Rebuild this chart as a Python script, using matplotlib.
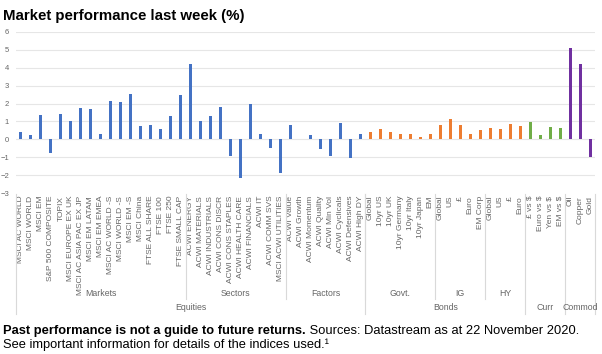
import matplotlib
matplotlib.use('Agg')
import matplotlib.pyplot as plt
from matplotlib import transforms

plt.rcParams['font.family'] = ['Liberation Sans', 'DejaVu Sans']

# categories per group
markets = ['MSCI AC WORLD', 'MSCI WORLD', 'MSCI EM', 'S&P 500 COMPOSITE', 'TOPIX',
           'MSCI EUROPE EX UK', 'MSCI AC ASIA PAC EX JP', 'MSCI EM LATAM', 'MSCI EM EMEA',
           'MSCI AC WORLD -S', 'MSCI WORLD -S', 'MSCI EM -S', 'MSCI China',
           'FTSE ALL SHARE', 'FTSE 100', 'FTSE 250', 'FTSE SMALL CAP']
sectors = ['ACWI ENERGY', 'ACWI MATERIALS', 'ACWI INDUSTRIALS', 'ACWI CONS DISCR',
           'ACWI CONS STAPLES', 'ACWI HEALTH CARE', 'ACWI FINANCIALS', 'ACWI IT',
           'ACWI COMM SVS', 'MSCI ACWI UTILITIES']
factors = ['ACWI Value', 'ACWI Growth', 'ACWI Momentum', 'ACWI Quality', 'ACWI Min Vol',
           'ACWI Cyclicals', 'ACWI Defensives', 'ACWI High DY']
govt = ['Global', '10yr US', '10yr UK', '10yr Germany', '10yr Italy', '10yr Japan', 'EM']
ig = ['Global', 'US', '£', 'Euro', 'EM Corp']
hy = ['Global', 'US', '£', 'Euro']
curr = ['£ vs $', 'Euro vs $', 'Yen vs $', 'EM vs $']
commod = ['Oil', 'Copper', 'Gold']

# weekly returns (%)
markets_val = [0.4, 0.25, 1.38, -0.75, 1.42, 1.05, 1.75, 1.68, 0.3, 2.13, 2.07, 2.55,
               0.72, 0.78, 0.56, 1.28, 2.5]
sectors_val = [4.2, 1.05, 1.3, 1.8, -0.95, -2.17, 1.95, 0.32, -0.47, -1.9]
factors_val = [0.82, 0.02, 0.26, -0.56, -0.92, 0.92, -1.07, 0.32]
govt_val = [0.4, 0.55, 0.4, 0.3, 0.3, 0.15, 0.3]
ig_val = [0.8, 1.15, 0.8, 0.3, 0.5]
hy_val = [0.65, 0.6, 0.85, 0.75]
curr_val = [0.95, 0.25, 0.7, 0.65]
commod_val = [5.1, 4.2, -1.0]

blue = '#4472C4'
orange = '#ED7D31'
green = '#70AD47'
purple = '#7030A0'
grey = '#666666'

labels = markets + sectors + factors + govt + ig + hy + curr + commod
values = markets_val + sectors_val + factors_val + govt_val + ig_val + hy_val + curr_val + commod_val
n_eq = len(markets) + len(sectors) + len(factors)
n_bd = len(govt) + len(ig) + len(hy)
colors = [blue] * n_eq + [orange] * n_bd + [green] * len(curr) + [purple] * len(commod)
x = list(range(len(labels)))

fig = plt.figure(figsize=(6.02, 3.54), dpi=100)
ax = fig.add_axes([16 / 602, 1 - 193 / 354, 579 / 602, 161 / 354])

ax.bar(x, values, width=0.3, color=colors, zorder=3)
ax.set_xlim(-0.5, len(labels) - 0.5)
ax.set_ylim(-3, 6)
ax.set_yticks(range(-3, 7))
ax.tick_params(axis='y', length=0, labelsize=5.5, labelcolor=grey, pad=5)
for v in range(-2, 7):
    ax.axhline(v, color='#E6E6E6', lw=0.8, zorder=1)
ax.set_xticks(x)
ax.set_xticklabels(labels, rotation=90, fontsize=6.0, color=grey)
ax.tick_params(axis='x', length=0, pad=2)
for s in ax.spines.values():
    s.set_visible(False)

# hierarchical category axis
tr = transforms.blended_transform_factory(ax.transData, fig.transFigure)
top = 1 - 194 / 354
mid = 1 - 299 / 354
bot = 1 - 314 / 354
sizes2 = [len(markets), len(sectors), len(factors), len(govt), len(ig), len(hy)]
names2 = ['Markets', 'Sectors', 'Factors', 'Govt.', 'IG', 'HY']
sizes1 = [n_eq, n_bd, len(curr), len(commod)]
names1 = ['Equities', 'Bonds', 'Curr', 'Commod']

start = 0
for size, name in zip(sizes2, names2):
    ax.text(start + (size - 1) / 2, 1 - 293 / 354, name, transform=tr, ha='center',
            va='center', fontsize=6.3, color=grey)
    if start > 0:
        ax.plot([start - 0.5, start - 0.5], [top, mid], transform=tr, color='#D9D9D9',
                lw=0.8, clip_on=False)
    start += size

start = 0
for size, name in zip(sizes1, names1):
    ax.text(start + (size - 1) / 2, 1 - 308 / 354, name, transform=tr, ha='center',
            va='center', fontsize=6.3, color=grey)
    ax.plot([start - 0.5, start - 0.5], [top, bot], transform=tr, color='#D9D9D9',
            lw=0.8, clip_on=False)
    start += size
ax.plot([start - 0.5, start - 0.5], [top, bot], transform=tr, color='#D9D9D9',
        lw=0.8, clip_on=False)

fig.text(3 / 602, 1 - 20 / 354, 'Market performance last week (%)', fontsize=10.8,
         fontweight='bold', color='black', va='baseline')

b = fig.text(3 / 602, 1 - 334 / 354, 'Past performance is not a guide to future returns.',
             fontsize=9.3, fontweight='bold', va='baseline')
ax.annotate(' Sources: Datastream as at 22 November 2020.', xy=(1, 0), xycoords=b,
            fontsize=9.3, va='bottom', ha='left')
fig.text(3 / 602, 1 - 348 / 354, 'See important information for details of the indices used.\u00b9',
         fontsize=9.3, va='baseline')

fig.savefig('out.png', dpi=100)
